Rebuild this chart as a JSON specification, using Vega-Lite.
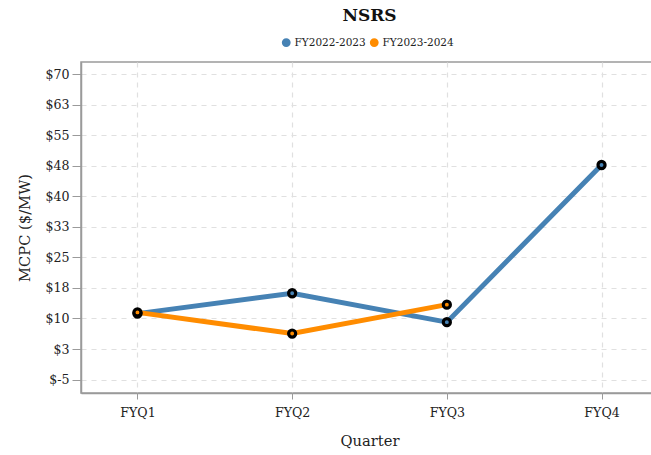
{
  "$schema": "https://vega.github.io/schema/vega-lite/v6.json",
  "autosize": {"type": "none"},
  "padding": {"left": 81, "top": 62, "right": 0, "bottom": 62},
  "width": 577,
  "height": 331,
  "title": {"text": "NSRS", "font": "DejaVu Serif", "fontSize": 17, "fontWeight": "bold", "color": "#111", "anchor": "middle", "offset": 12},
  "config": {
    "font": "DejaVu Serif",
    "view": {"stroke": "#9a9a9a", "strokeWidth": 1.5},
    "axis": {
      "domainColor": "#9a9a9a",
      "domainWidth": 1.5,
      "tickColor": "#9a9a9a",
      "gridColor": "#e0e0e0",
      "gridDash": [5, 5],
      "gridWidth": 1.2,
      "labelFont": "DejaVu Serif",
      "labelFontSize": 12.6,
      "labelColor": "#222",
      "titleFont": "DejaVu Serif",
      "titleFontSize": 14.7,
      "titleFontWeight": "normal",
      "titleColor": "#222"
    }
  },
  "data": {
    "values": [
      {"quarter": "FYQ1", "series": "FY2022-2023", "mcpc": 11.2},
      {"quarter": "FYQ2", "series": "FY2022-2023", "mcpc": 16.2},
      {"quarter": "FYQ3", "series": "FY2022-2023", "mcpc": 9.1},
      {"quarter": "FYQ4", "series": "FY2022-2023", "mcpc": 47.7},
      {"quarter": "FYQ1", "series": "FY2023-2024", "mcpc": 11.5},
      {"quarter": "FYQ2", "series": "FY2023-2024", "mcpc": 6.3},
      {"quarter": "FYQ3", "series": "FY2023-2024", "mcpc": 13.4}
    ]
  },
  "encoding": {
    "x": {
      "field": "quarter", "type": "ordinal",
      "scale": {"type": "point", "padding": 0.365},
      "axis": {"title": "Quarter", "labelAngle": 0, "grid": true, "tickSize": 6, "labelPadding": 7, "titlePadding": 15}
    },
    "y": {
      "field": "mcpc", "type": "quantitative",
      "scale": {"domain": [-8.3, 73], "nice": false, "zero": false},
      "axis": {
        "title": "MCPC ($/MW)",
        "values": [-5, 2.5, 10, 17.5, 25, 32.5, 40, 47.5, 55, 62.5, 70],
        "labelExpr": "'$' + replace(format(datum.value, '.0f'), '\u2212', '-')",
        "tickSize": 9,
        "labelPadding": 3,
        "titlePadding": 12
      }
    },
    "color": {
      "field": "series", "type": "nominal",
      "scale": {"domain": ["FY2022-2023", "FY2023-2024"], "range": ["#4682b4", "#ff8c00"]},
      "legend": {
        "title": null, "orient": "none", "direction": "horizontal",
        "legendX": 200, "legendY": -25,
        "symbolType": "circle", "symbolSize": 40,
        "symbolStrokeColor": "black", "symbolStrokeWidth": 2.5,
        "labelFont": "DejaVu Serif", "labelFontSize": 10.5, "labelColor": "#222",
        "labelOffset": 3, "columnPadding": 0
      }
    }
  },
  "layer": [
    {
      "mark": {"type": "line", "strokeWidth": 5}
    },
    {
      "mark": {"type": "point", "filled": true, "stroke": "black", "strokeWidth": 3.2, "size": 50, "opacity": 1}
    }
  ]
}
